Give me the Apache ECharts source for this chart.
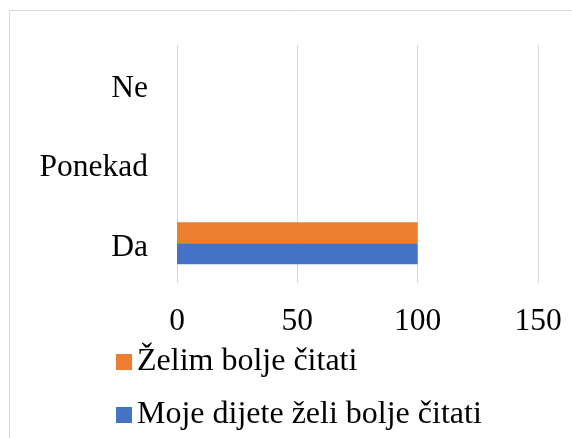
<!DOCTYPE html>
<html><head><meta charset="utf-8">
<script src="https://cdn.jsdelivr.net/npm/echarts@6/dist/echarts.min.js"></script>
<style>html,body{margin:0;padding:0;background:#fff}#c{width:572px;height:438px}</style>
</head><body><div id="c"></div>
<script>
const categories = ['Da', 'Ponekad', 'Ne'];
const childWants = [100, 0, 0];
const iWant = [100, 0, 0];
const xTicks = [0, 50, 100, 150];
const seriesNames = ['Moje dijete želi bolje čitati', 'Želim bolje čitati'];

const font = '"Liberation Serif", "Times New Roman", serif';
const chart = echarts.init(document.getElementById('c'));
chart.setOption({
  animation: false,
  textStyle: { fontFamily: font },
  graphic: [{ type: 'rect', shape: { x: 9.5, y: 10.5, width: 700, height: 600 }, style: { fill: 'none', stroke: '#d9d9d9', lineWidth: 1 }, z: -1 }],
  grid: { left: 177, right: 34, top: 45, bottom: 155 },
  xAxis: {
    type: 'value', min: xTicks[0], max: xTicks[xTicks.length - 1], interval: 50,
    axisLine: { show: false }, axisTick: { show: false },
    splitLine: { lineStyle: { color: '#d9d9d9', width: 1 } },
    axisLabel: { color: '#000', fontSize: 31.5, fontFamily: font, margin: 23 }
  },
  yAxis: {
    type: 'category', data: categories,
    axisLine: { show: false }, axisTick: { show: false },
    axisLabel: {
      color: '#000', fontSize: 31.5, fontFamily: font, margin: 29,
      formatter: '{a|{value}}',
      rich: { a: { color: '#000', fontSize: 31.5, fontFamily: font, padding: [8, 0, 0, 0] } }
    }
  },
  legend: [
    { left: 111, top: 341, itemWidth: 16, itemHeight: 16, itemGap: 6, icon: 'rect', data: [seriesNames[1]], textStyle: { color: '#000', fontSize: 32, fontFamily: font } },
    { left: 111, top: 394, itemWidth: 16, itemHeight: 16, itemGap: 6, icon: 'rect', data: [seriesNames[0]], textStyle: { color: '#000', fontSize: 32, fontFamily: font } }
  ],
  series: [
    { name: seriesNames[1], type: 'bar', data: iWant, barWidth: 21, barGap: '0%', itemStyle: { color: '#ED7D31' } },
    { name: seriesNames[0], type: 'bar', data: childWants, barWidth: 21, barGap: '0%', itemStyle: { color: '#4472C4' } }
  ]
});
</script></body></html>
